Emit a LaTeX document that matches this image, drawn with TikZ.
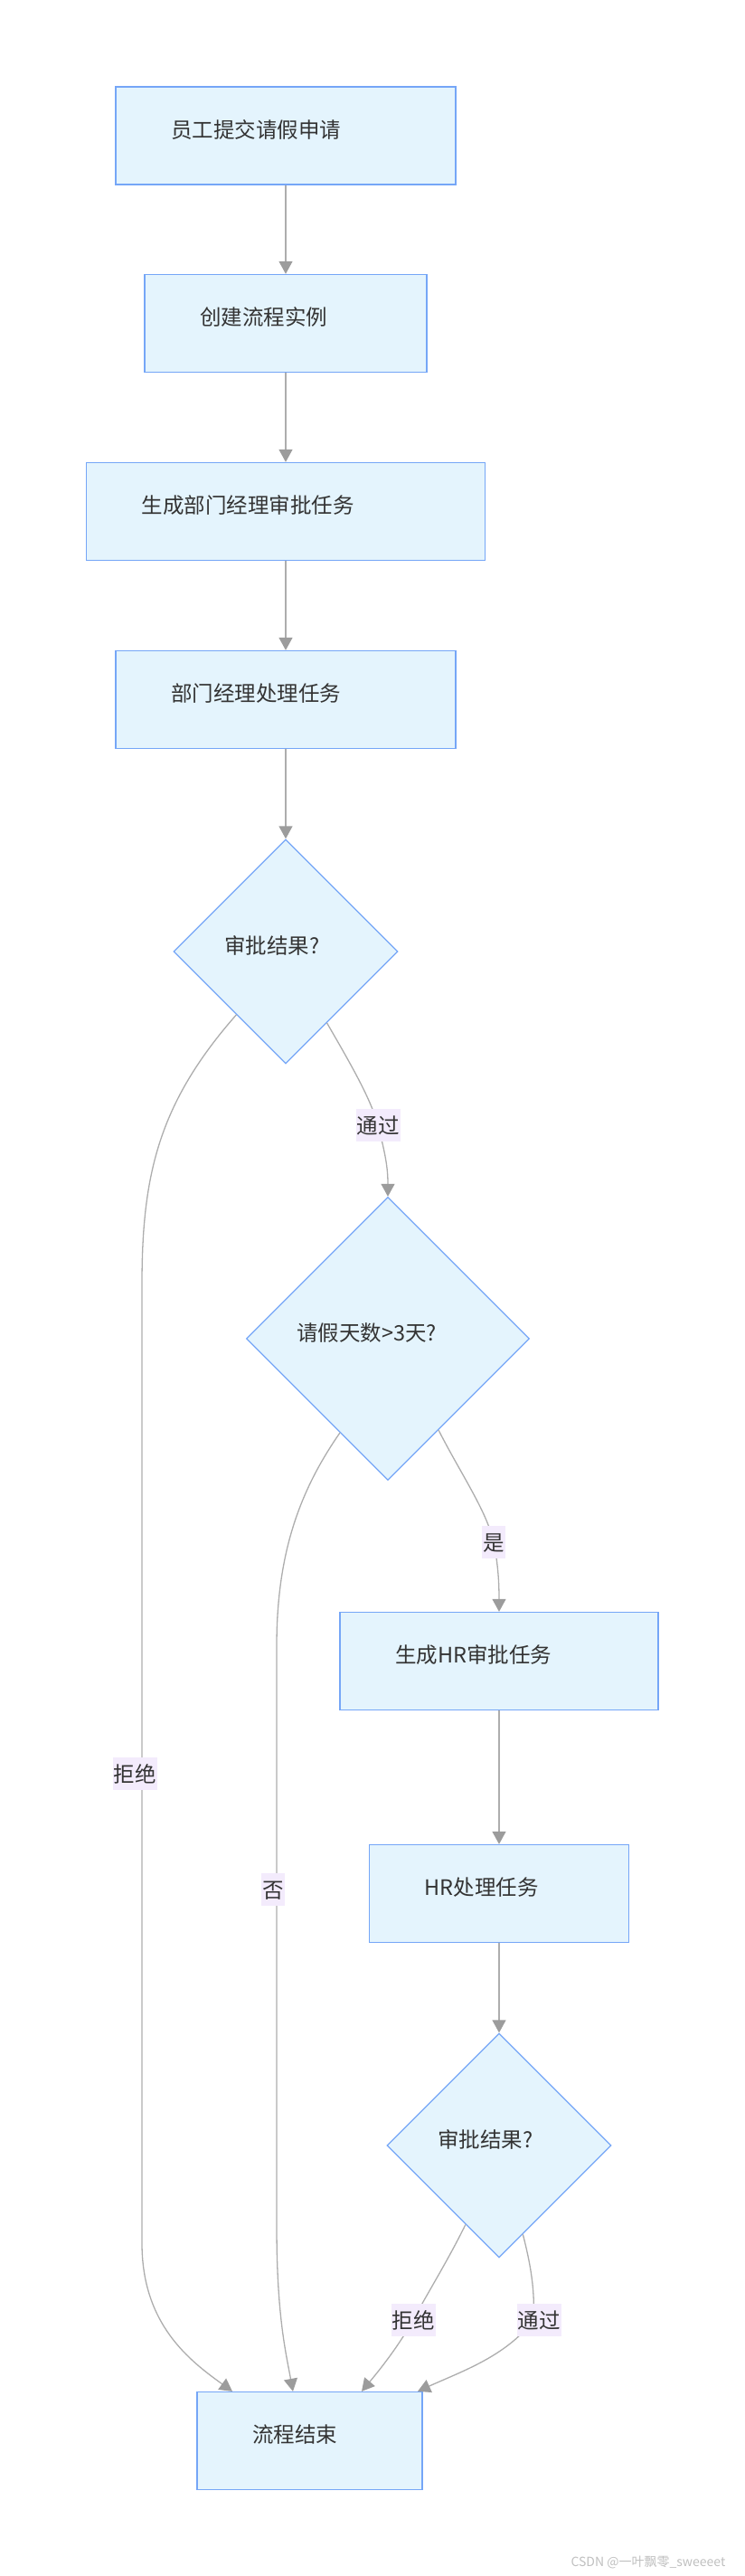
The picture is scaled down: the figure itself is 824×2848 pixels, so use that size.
\documentclass[tikz,border=0pt]{standalone}
\usepackage{fontspec}
\setmainfont{Noto Sans CJK SC}
\usepackage{xcolor}
\usetikzlibrary{arrows.meta, shapes.geometric}

\definecolor{boxfill}{HTML}{E4F4FD}
\definecolor{boxline}{HTML}{75A6F7}
\definecolor{edgegray}{HTML}{ADADAD}
\definecolor{tipgray}{HTML}{9C9C9C}
\definecolor{lblbg}{HTML}{F3EBFC}
\definecolor{txtgray}{HTML}{333333}

\begin{document}
\begin{tikzpicture}[x=1pt, y=-1pt,
            base/.style={text=txtgray, font=\fontsize{23.5}{28}\selectfont},
            proc/.style={base, rectangle, draw=boxline, fill=boxfill, line width=1.3pt, minimum height=108pt, inner xsep=61pt, inner ysep=0pt, align=left, text height=16pt, text depth=12pt},
            decide/.style={base, diamond, aspect=1, draw=boxline, fill=boxfill, line width=1.3pt, inner sep=0pt, align=left, text height=16pt, text depth=12pt},
            elbl/.style={base, fill=lblbg, inner xsep=1pt, inner ysep=0pt, minimum height=36pt, text height=20pt, text depth=2pt},
            flow/.style={draw=edgegray, line width=1.3pt, -{Triangle[length=14pt, width=15pt, color=tipgray]}},
        ]
        \useasboundingbox (0,0) rectangle (824,2848);
        % main line
        \node[proc, text width=254pt] (apply) at (316,150) {员工提交请假申请};
        \node[proc, text width=190pt] (create) at (316,357.5) {创建流程实例};
        \node[proc, text width=319pt] (mgrtask) at (316,565.5) {生成部门经理审批任务};
        \node[proc, text width=254pt] (mgrdo) at (316,773.5) {部门经理处理任务};
        \node[decide, text width=136pt, minimum width=248pt, minimum height=248pt] (chk1) at (316,1052) {审批结果?};
        \node[decide, text width=202pt, minimum width=313pt, minimum height=313pt] (days) at (429,1480) {请假天数>3天?};
        % HR branch
        \node[proc, text width=230pt] (hrtask) at (552,1836.5) {生成HR审批任务};
        \node[proc, text width=165pt] (hrdo) at (552,2093.5) {HR处理任务};
        \node[decide, text width=136pt, minimum width=248pt, minimum height=248pt] (chk2) at (552,2372) {审批结果?};
        \node[proc, text width=127pt] (done) at (342.5,2698.5) {流程结束};

        \draw[flow] (apply) -- (create);
        \draw[flow] (create) -- (mgrtask);
        \draw[flow] (mgrtask) -- (mgrdo);
        \draw[flow] (mgrdo) -- (chk1);
        \draw[flow] (chk1.-60) .. controls (390,1180) and (410,1215) .. (418,1244) node[elbl] {通过}
            .. controls (426,1275) and (429,1290) .. (days.north);
        \draw[flow] (chk1.-128) .. controls (175,1220) and (157,1300) .. (157,1420)
            -- (157,1961) node[elbl, xshift=-8pt] {拒绝}
            -- (157,2480) .. controls (157,2570) and (210,2610) .. ([xshift=-85.5pt]done.north);
        \draw[flow] (days.-117) .. controls (330,1650) and (306,1720) .. (306,1820)
            -- (306,2089) node[elbl, xshift=-4pt] {否}
            -- (306,2460) .. controls (306,2560) and (316,2600) .. ([xshift=-18.5pt]done.north);
        \draw[flow] (days.-61) .. controls (510,1630) and (538,1670) .. (546,1705) node[elbl] {是}
            .. controls (551,1730) and (552,1750) .. (hrtask.north);
        \draw[flow] (hrtask) -- (hrdo);
        \draw[flow] (hrdo) -- (chk2);
        \draw[flow] (chk2.-113) .. controls (495,2500) and (470,2540) .. (457,2565) node[elbl] {拒绝}
            .. controls (440,2595) and (420,2620) .. ([xshift=57.5pt]done.north);
        \draw[flow] (chk2.-75) .. controls (586,2500) and (592,2530) .. (590,2565) node[elbl, xshift=6pt] {通过}
            .. controls (560,2605) and (510,2622) .. ([xshift=119.5pt]done.north);

        \node[anchor=west, text=black!25, font=\fontsize{14}{16}\selectfont] (mark) at (628,2833) {CSDN @一叶飘零\_sweeeet};
    \end{tikzpicture}
\end{document}
